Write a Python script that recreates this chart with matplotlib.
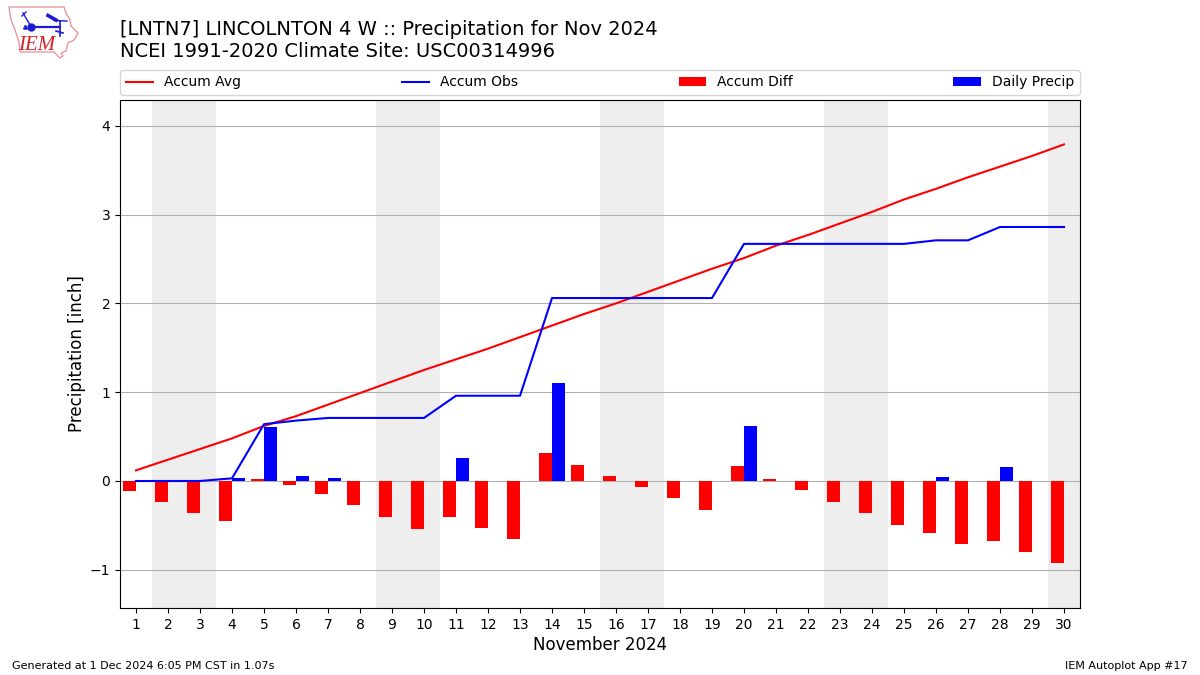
import matplotlib
matplotlib.use("Agg")
import matplotlib.pyplot as plt
from matplotlib.patches import Polygon

days = list(range(1, 31))
accum_avg = [0.12, 0.24, 0.36, 0.48, 0.62, 0.73, 0.86, 0.99, 1.12, 1.25,
             1.37, 1.49, 1.62, 1.75, 1.88, 2.00, 2.13, 2.26, 2.39, 2.51,
             2.65, 2.77, 2.90, 3.03, 3.17, 3.29, 3.42, 3.54, 3.66, 3.79]
accum_obs = [0.00, 0.00, 0.00, 0.03, 0.64, 0.68, 0.71, 0.71, 0.71, 0.71,
             0.96, 0.96, 0.96, 2.06, 2.06, 2.06, 2.06, 2.06, 2.06, 2.67,
             2.67, 2.67, 2.67, 2.67, 2.67, 2.71, 2.71, 2.86, 2.86, 2.86]
accum_diff = [-0.11, -0.24, -0.36, -0.45, 0.02, -0.05, -0.15, -0.27, -0.41, -0.54,
              -0.41, -0.53, -0.65, 0.32, 0.18, 0.06, -0.07, -0.19, -0.33, 0.17,
              0.02, -0.10, -0.24, -0.36, -0.50, -0.58, -0.71, -0.68, -0.80, -0.92]
daily_precip = [0, 0, 0, 0.03, 0.61, 0.06, 0.03, 0, 0, 0,
                0.26, 0, 0, 1.10, 0, 0, 0, 0, 0, 0.62,
                0, 0, 0, 0, 0, 0.04, 0, 0.16, 0, 0]
weekend_spans = [(1.5, 3.5), (8.5, 10.5), (15.5, 17.5), (22.5, 24.5), (29.5, 31.5)]
title_line1 = "[LNTN7] LINCOLNTON 4 W :: Precipitation for Nov 2024"
title_line2 = "NCEI 1991-2020 Climate Site: USC00314996"

fig = plt.figure(figsize=(12, 6.75), dpi=100)
ax = fig.add_axes([120 / 1200, 1 - 608 / 675, 960 / 1200, 508 / 675])

for lo, hi in weekend_spans:
    ax.axvspan(lo, hi, color="#eeeeee", lw=0, zorder=0)

ax.bar(days, accum_diff, width=-0.4, align="edge", color="r", label="Accum Diff", zorder=2)
ax.bar(days, daily_precip, width=0.4, align="edge", color="b", label="Daily Precip", zorder=2)
ax.plot(days, accum_avg, color="r", lw=1.5, label="Accum Avg", zorder=3)
ax.plot(days, accum_obs, color="b", lw=1.5, label="Accum Obs", zorder=3)

ax.set_xlim(0.5, 30.5)
ax.set_ylim(-1.43, 4.29)
ax.set_xticks(days)
ax.set_yticks([-1, 0, 1, 2, 3, 4])
ax.set_yticklabels(["\u22121", "0", "1", "2", "3", "4"])
ax.tick_params(labelsize=10)
ax.grid(True, axis="y", color="#b0b0b0", lw=0.8)
ax.set_axisbelow(True)
ax.set_xlabel("November 2024", fontsize=12, labelpad=3.3)
ax.set_ylabel("Precipitation [inch]", fontsize=12, labelpad=2.6)

handles, labels = ax.get_legend_handles_labels()
order = [labels.index(n) for n in ["Accum Avg", "Accum Obs", "Accum Diff", "Daily Precip"]]
ax.legend([handles[i] for i in order], [labels[i] for i in order],
          ncol=4, mode="expand", loc="lower left", fontsize=10,
          bbox_to_anchor=(0, 1 + 5 / 508, 1, 0.05), borderaxespad=0)

fig.text(120 / 1200, 1 - 35 / 675, title_line1, fontsize=14, ha="left", va="baseline")
fig.text(120 / 1200, 1 - 57 / 675, title_line2, fontsize=14, ha="left", va="baseline")
fig.text(12 / 1200, 1 - 671 / 675, "Generated at 1 Dec 2024 6:05 PM CST in 1.07s", fontsize=8, ha="left", va="bottom")
fig.text(1188 / 1200, 1 - 671 / 675, "IEM Autoplot App #17", fontsize=8, ha="right", va="bottom")

# IEM logo (decorative, drawn in pixel space)
logo = fig.add_axes([0, 1 - 60 / 675, 90 / 1200, 60 / 675])
logo.set_xlim(0, 90)
logo.set_ylim(60, 0)
logo.axis("off")
iowa = [(9, 7), (64, 7), (66, 13), (70, 20), (71, 26), (78, 33), (74, 40), (68, 43), (66, 51),
        (61, 53), (63, 56), (60, 58), (54, 52), (20, 52), (19, 42), (15, 30), (11, 20)]
logo.add_patch(Polygon(iowa, closed=True, fill=False, ec="#e58f94", lw=0.9))
blue = "#1a1ad6"
logo.plot([31, 60], [26.5, 26.5], color=blue, lw=1.6)
logo.plot([31], [26.5], "o", color=blue, ms=5)
logo.plot([30, 23], [25, 13], color=blue, lw=1)
logo.plot([22, 26], [16, 12], color=blue, lw=1)
logo.plot([48, 56], [15.5, 20], color=blue, lw=2.6)
logo.plot([54, 67], [20.5, 21], color=blue, lw=1)
logo.plot([60, 60], [21, 36], color=blue, lw=1.2)
logo.plot([56, 63], [31, 33], color=blue, lw=1.2)
logo.plot([24, 26, 25], [28, 28, 25.5], ls="", marker=".", ms=2, color=blue)
logo.text(37, 45.5, "IEM", color="#d42028", fontsize=15, family="Liberation Serif",
          style="italic", ha="center", va="center")

fig.savefig("out.png", dpi=100)
